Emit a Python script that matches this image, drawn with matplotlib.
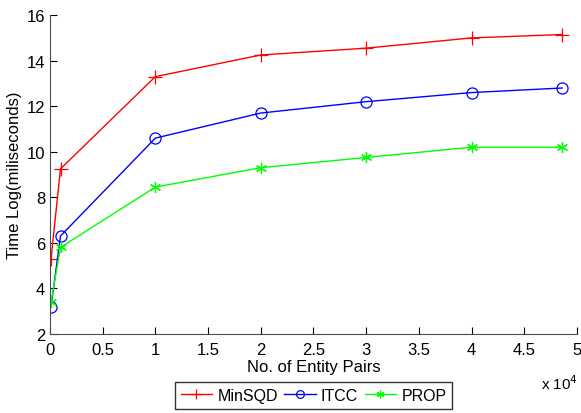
import matplotlib
matplotlib.use('Agg')
from matplotlib import pyplot as plt
import numpy as np

plt.rcParams['font.family'] = ['Liberation Sans', 'DejaVu Sans']

# numero di coppie di entita
pairs = np.array([100, 1000, 10000, 20000, 30000, 40000, 48600])
minsqd = [5.3, 9.25, 13.3, 14.25, 14.55, 15.0, 15.15]
itcc = [3.2, 6.3, 10.6, 11.7, 12.2, 12.6, 12.8]
prop = [3.4, 5.8, 8.45, 9.3, 9.75, 10.2, 10.2]

xticks = np.arange(0, 5.01, 0.5)
xlabels = ['0', '0.5', '1', '1.5', '2', '2.5', '3', '3.5', '4', '4.5', '5']
yticks = [2, 4, 6, 8, 10, 12, 14, 16]

fig = plt.figure(figsize=(5.81, 4.14), dpi=100)
ax = fig.add_axes([0.086, 0.191, 0.907, 0.770])

x = pairs / 1e4
asterisco = (6, 2, 0)
ax.plot(x, minsqd, '-', color=(1, 0, 0), marker='+', ms=10, mew=0.9, lw=1, label='MinSQD')
ax.plot(x, itcc, '-', color=(0, 0, 1), marker='o', ms=8, mfc='none', mew=0.9, lw=1, label='ITCC')
ax.plot(x, prop, '-', color=(0, 1, 0), marker=asterisco, ms=8, mew=0.9, lw=1, label='PROP')

ax.set_xlim(0, 5)
ax.set_ylim(2, 16)
ax.set_xticks(xticks)
ax.set_xticklabels(xlabels)
ax.set_yticks(yticks)
ax.tick_params(direction='in', labelsize=12, length=5, width=0.8)
ax.tick_params(axis='x', pad=6)
for s in ['top', 'right']:
    ax.spines[s].set_visible(False)
for s in ['left', 'bottom']:
    ax.spines[s].set_color('0.3')

ax.set_xlabel('No. of Entity Pairs', fontsize=12, labelpad=1)
ax.set_ylabel('Time Log(miliseconds)', fontsize=12, labelpad=3)
fig.text(0.963, 0.073, r'x 10$^4$', fontsize=11, ha='center', va='center')

leg = ax.legend(loc='upper center', bbox_to_anchor=(0.5, -0.152), ncol=3, fontsize=11.5,
                frameon=True, fancybox=False, edgecolor='black', handlelength=2.0,
                handletextpad=0.3, columnspacing=0.4, borderpad=0.35, borderaxespad=0,
                markerscale=0.7)
leg.get_frame().set_linewidth(1)

plt.savefig('out.png', dpi=100)
